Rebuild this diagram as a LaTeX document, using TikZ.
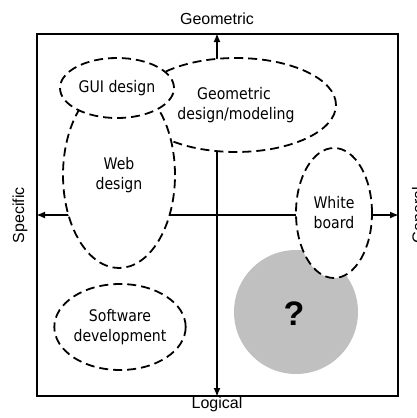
\documentclass[tikz,border=0pt]{standalone}
\usepackage{fontspec}
\setmainfont{Liberation Sans}
\newfontfamily\innerfont{DejaVu Sans}[FakeStretch=0.88]
\usetikzlibrary{shapes.geometric,arrows.meta}
\definecolor{circgray}{RGB}{192,192,192}
\begin{document}
\begin{tikzpicture}[x=1pt,y=-1pt,
  area/.style={ellipse, draw, dash pattern=on 9pt off 5pt, line width=1.8pt, fill=white, inner sep=0pt, align=center, font=\innerfont\fontsize{16}{20}\selectfont},
  axis/.style={line width=2pt, -{Latex[length=9pt,width=7pt]}},
  lab/.style={font=\fontsize{16}{19}\selectfont, inner sep=0pt, anchor=base}]
\useasboundingbox (0,0) rectangle (416,418);
\node[draw, line width=2pt, minimum width=361pt, minimum height=362pt, inner sep=0pt, anchor=north west] (box) at (36,33) {};
\coordinate (O) at (217,215);
\draw[axis] (O) -- (O |- box.north);
\draw[axis] (O) -- (O |- box.south);
\draw[axis] (O) -- (O -| box.west);
\draw[axis] (O) -- (O -| box.east);
\node[circle, fill=circgray, minimum size=124pt, inner sep=0pt] (gray) at (296,312) {};
\node[font=\bfseries\fontsize{34}{34}\selectfont, inner sep=0pt] (qm) at (294,314) {?};
\node[area, minimum width=200pt, minimum height=94pt] (geo) at (236,105) {\hspace*{-4pt}Geometric\\design/modeling};
\node[area, minimum width=112pt, minimum height=186pt] (web) at (119,175) {Web\\design};
\node[area, minimum width=114pt, minimum height=60pt] (gui) at (117,88) {GUI design};
\node[area, minimum width=116pt, minimum height=86pt] (soft) at (120,327) {Software\\development};
\node[area, minimum width=76pt, minimum height=130pt] (white) at (334,213) {White\\board};
\node[lab] (top) at (217,24) {Geometric};
\node[lab] (bottom) at (217,408) {Logical};
\node[lab, rotate=90] (left) at (24,215) {Specific};
\node[lab, rotate=90] (right) at (423.5,215) {General};
\end{tikzpicture}
\end{document}
